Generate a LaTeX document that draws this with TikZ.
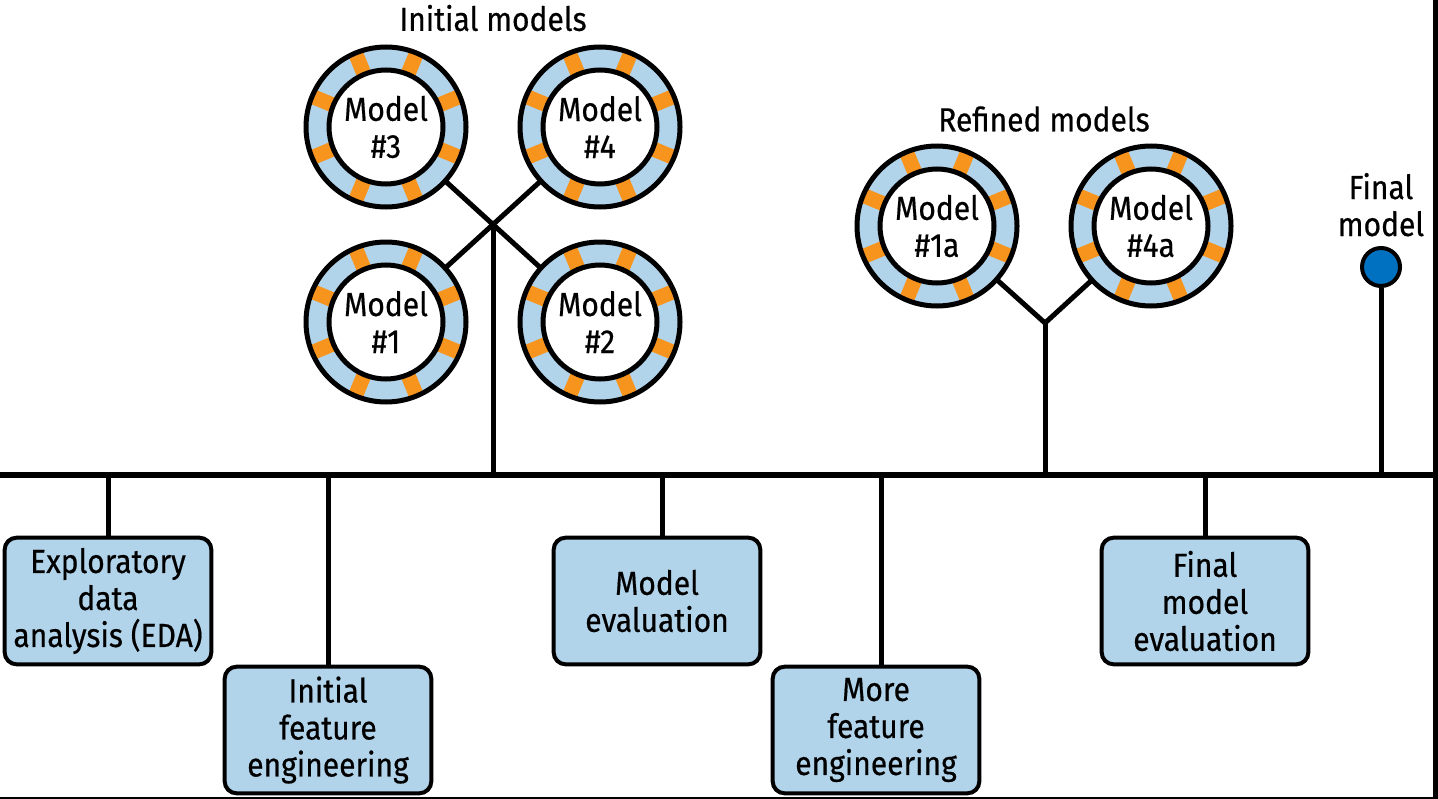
\documentclass[tikz,border=0pt]{standalone}
\usepackage{fontspec}
\setmainfont{Fira Sans}[FakeStretch=0.9,FakeBold=0.5]
\usetikzlibrary{positioning}
\usetikzlibrary{shapes,shapes.geometric}
\usetikzlibrary{backgrounds}
\definecolor{ringblue}{RGB}{178,212,234}
\definecolor{tickorange}{RGB}{247,148,30}
\definecolor{dotblue}{RGB}{0,112,192}
\newcommand{\diagfont}{\fontsize{25}{27.75}\selectfont}
\tikzset{ring/.style={
        circle,
        draw,
        line width=3.75pt,
        fill=ringblue,
        minimum size=120pt,
        inner sep=0pt,
        align=center,
        font=\diagfont,
        path picture={
          \foreach \a in {22.5,67.5,...,337.5}
            \draw[tickorange, line width=11.25pt]
              ([shift={(\a:42pt)}]path picture bounding box.center) --
              ([shift={(\a:61pt)}]path picture bounding box.center);
          \draw[line width=3.75pt, fill=white]
            (path picture bounding box.center) circle (42.75pt);
        } },
    stage/.style={
        draw,
        rounded corners=9pt,
        line width=3pt,
        fill=ringblue,
        minimum width=155pt,
        minimum height=95pt,
        inner sep=0pt,
        align=center,
        font=\diagfont },
    finaldot/.style={
        circle,
        draw,
        line width=3pt,
        fill=dotblue,
        minimum size=28.5pt,
        inner sep=0pt },
    title/.style={font=\diagfont, inner sep=0pt},
    stem/.style={line width=3.75pt} }

\begin{document}
\begin{tikzpicture}[x=0.75pt,y=-0.75pt] % pixel grid, y downwards
\useasboundingbox (0,0) rectangle (1438,799);

\coordinate (tl_l) at (0,475);
\coordinate (tl_r) at (1434,475);

% initial models
\node[ring] (m3) at (386,127) {Model\\\#3};
\node[ring, right=36.75pt of m3] (m4) {Model\\\#4};
\node[ring, below=22.5pt of m3] (m1) {Model\\\#1};
\node[ring, right=36.75pt of m1] (m2) {Model\\\#2};
\node[title] (init) at (493,18) {Initial models};

% refined models
\node[ring] (m1a) at (937,226) {Model\\\#1a};
\node[ring, right=36.75pt of m1a] (m4a) {Model\\\#4a};
\node[title] (refined) at (1044,119) {Refined models};

\node[finaldot]
[label={
[align=center,label distance=7pt,inner sep=0pt,font=\diagfont]
above:
Final\\model}]
(final) at (1381,267) {};

\coordinate (init_j) at (493,224.5);
\coordinate (ref_j) at (1045,323);

\begin{scope}[on background layer]
\draw[stem] (m3.center) -- (m2.center);
\draw[stem] (m4.center) -- (m1.center);
\draw[stem] (m1a.center) -- (ref_j) -- (m4a.center);
\end{scope}

% stages
\node[stage] (eda) at (108,601) {Exploratory\\data\\analysis (EDA)};
\node[stage] (ife) at (328,730) {Initial\\feature\\engineering};
\node[stage] (me) at (657,601) {Model\\evaluation};
\node[stage] (mfe) at (876,730) {More\\feature\\engineering};
\node[stage] (fme) at (1205,601) {Final\\model\\evaluation};

\path[stem]
(init_j) edge (init_j |- tl_l)
(ref_j) edge (ref_j |- tl_l)
(final.south) edge (final.south |- tl_l)
(eda.north) edge (eda.north |- tl_l)
(ife.north) edge (ife.north |- tl_l)
([xshift=3.75pt]me.north) edge ([xshift=3.75pt]me.north |- tl_l)
([xshift=4pt]mfe.north) edge ([xshift=4pt]mfe.north |- tl_l)
(fme.north) edge (fme.north |- tl_l);

\draw[line width=4.5pt] (tl_l) -- (tl_r);

% frame
\draw[line width=3.5pt] (1435.7,0) -- (1435.7,799);
\draw[line width=1.7pt] (0,797.8) -- (1438,797.8);

\end{tikzpicture}
\end{document}
